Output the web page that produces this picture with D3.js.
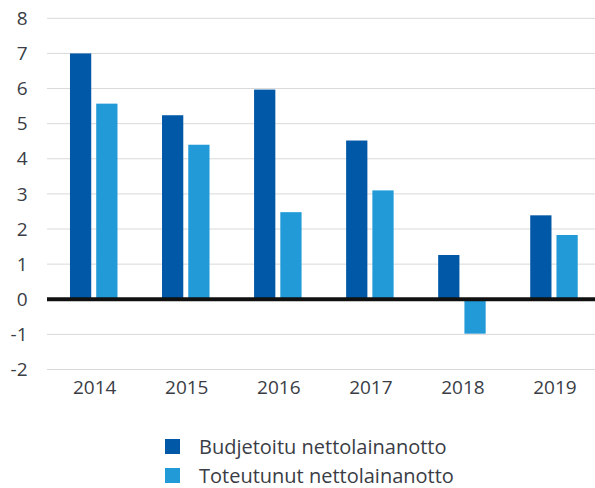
<!DOCTYPE html>
<html><head><meta charset="utf-8">
<script src="https://cdn.jsdelivr.net/npm/d3@7"></script>
<style>body{margin:0;background:#fff;}svg{display:block;}</style>
</head><body>
<svg id="c" width="595" height="488"></svg>
<script>
const years = ["2014","2015","2016","2017","2018","2019"];
const budjetoitu = [7.0, 5.24, 5.97, 4.52, 1.26, 2.39];
const toteutunut = [5.57, 4.40, 2.48, 3.10, -0.98, 1.83];
const seriesNames = ["Budjetoitu nettolainanotto","Toteutunut nettolainanotto"];
const colors = ["#0058a6","#229ad8"];
const yTicks = [-2,-1,0,1,2,3,4,5,6,7,8];

const svg = d3.select("#c");
const font = "'Open Sans', 'Noto Sans', sans-serif";
const x = d3.scaleBand().domain(years).range([47.7, 600]);
const y = d3.scaleLinear().domain([-2, 8]).range([369.5, 18.3]);

// gridlines
svg.append("g").selectAll("line").data(yTicks).join("line")
  .attr("x1", 47).attr("x2", 600)
  .attr("y1", d => y(d)).attr("y2", d => y(d))
  .attr("stroke", "#d9d9d9").attr("stroke-width", 1);

// y labels
svg.append("g").selectAll("text").data(yTicks).join("text")
  .attr("x", 27.5).attr("y", d => y(d)).attr("dy", "0.35em")
  .attr("text-anchor", "end").attr("font-family", font).attr("font-size", 19)
  .attr("fill", "#3a3d45").text(d => d);

const sub = d3.scaleBand().domain([0,1]).range([0, 47.5]).paddingInner(0.19);
const series = [budjetoitu, toteutunut];
series.forEach((vals, si) => {
  svg.append("g").selectAll("rect").data(vals).join("rect")
    .attr("x", (d,i) => x(years[i]) + x.bandwidth()/2 - 23.75 + sub(si))
    .attr("width", sub.bandwidth())
    .attr("y", d => y(Math.max(0,d)))
    .attr("height", d => Math.abs(y(d) - y(0)))
    .attr("fill", colors[si]);
});

// zero line
svg.append("line").attr("x1", 47).attr("x2", 600).attr("y1", y(0)).attr("y2", y(0))
  .attr("stroke", "#111").attr("stroke-width", 4);

// x labels
svg.append("g").selectAll("text").data(years).join("text")
  .attr("x", d => x(d) + x.bandwidth()/2 + 1).attr("y", 394)
  .attr("text-anchor", "middle").attr("font-family", font).attr("font-size", 19)
  .attr("fill", "#3a3d45").text(d => d);

// legend
const lg = svg.append("g");
seriesNames.forEach((n, i) => {
  lg.append("rect").attr("x", 165).attr("y", 439 + i*29).attr("width", 15).attr("height", 15).attr("fill", colors[i]);
  lg.append("text").attr("x", 199).attr("y", 454 + i*29).attr("font-family", font).attr("font-size", 20)
    .attr("fill", "#3a3d45").text(n);
});
</script>
</body></html>
